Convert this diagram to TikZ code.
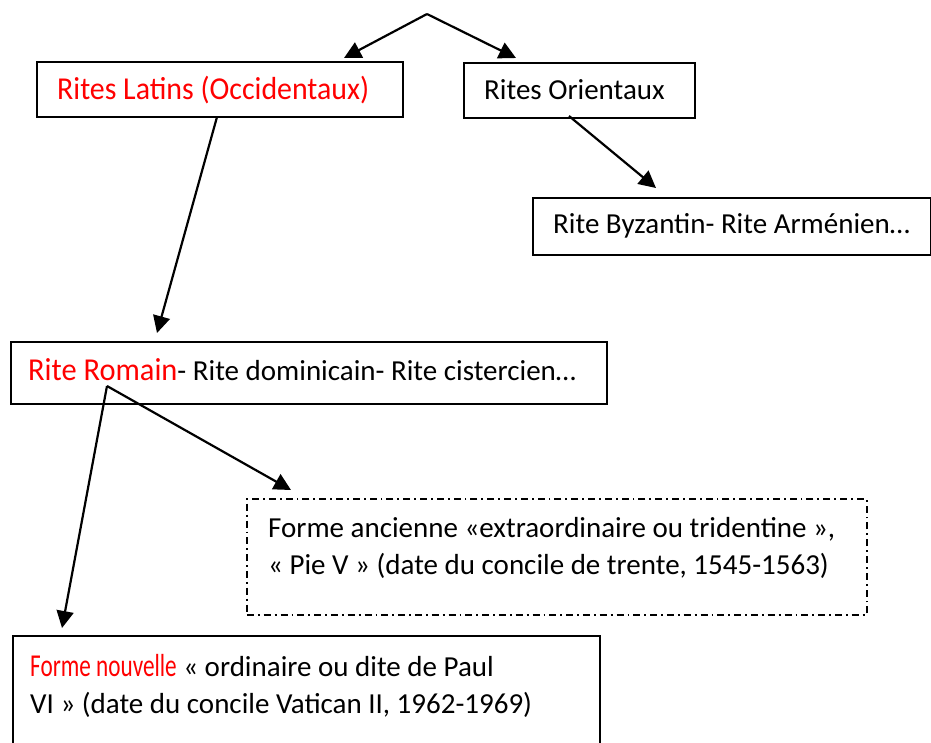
\documentclass[tikz,border=0pt]{standalone}
\usepackage{fontspec}
\usepackage{graphicx}
\setmainfont{Carlito}
\usetikzlibrary{arrows.meta}
\definecolor{handred}{HTML}{FF0000}
\begin{document}
\begin{tikzpicture}[x=1pt,y=-1pt,
  box/.style={draw=black,line width=2.2pt,rectangle,inner sep=0pt,anchor=north west},
  dashbox/.style={box,line width=1.8pt,dash pattern=on 7pt off 4pt on 1.8pt off 4pt},
  txt/.style={anchor=west,inner sep=0pt,font=\fontsize{29}{37}\selectfont,align=left},
  hand/.style={text=handred},
  conn/.style={draw=black,line width=2.2pt,-{Triangle[length=17pt,width=17pt]}}
]
\useasboundingbox (0,0) rectangle (931,742);
% boxes
\node[box,minimum width=366pt,minimum height=55pt] (latin) at (36,61) {};
\node[box,minimum width=231pt,minimum height=55pt] (orient) at (463,62) {};
\node[box,minimum width=398pt,minimum height=57pt] (byz) at (532,197) {};
\node[box,minimum width=596pt,minimum height=62pt] (romain) at (10,341) {};
\node[dashbox,minimum width=620pt,minimum height=116pt] (ancienne) at (246,498) {};
\node[box,minimum width=587pt,minimum height=120pt] (nouvelle) at (12,635) {};
% texts
\node[txt,hand] (tlatin) at (57,90) {\scalebox{1.03}[1.1]{Rites Latins (Occidentaux)}};
\node[txt] (torient) at (484,90) {Rites Orientaux};
\node[txt] (tbyz) at (553,226) {Rite Byzantin- Rite Arménien…};
\node[txt] (tromain) at (28,370) {\textcolor{handred}{\scalebox{1.05}[1.1]{Rite Romain}}- Rite dominicain- Rite cistercien…};
\node[txt,anchor=north west] (tanc) at (268,517) {Forme ancienne «extraordinaire ou tridentine »,\\« Pie V » (date du concile de trente, 1545-1563)};
\node[txt,anchor=north west] (tnouv) at (30,654) {\textcolor{handred}{\scalebox{0.8}[1.1]{Forme nouvelle}} « ordinaire ou dite de Paul\\VI » (date du concile Vatican II, 1962-1969)};
% connector coordinates
\coordinate (top) at (427,14);
\coordinate (latinin) at (344,58);
\coordinate (orientin) at (516,58);
\coordinate (latinout) at (217,117);
\coordinate (romainin) at (157,333);
\coordinate (orientout) at (569,116);
\coordinate (byzin) at (656,188);
\coordinate (romainout) at (107,386);
\coordinate (nouvin) at (62,628);
\coordinate (ancin) at (291,490);
% connectors
\draw[conn] (top) -- (latinin);
\draw[conn] (top) -- (orientin);
\draw[conn] (latinout) -- (romainin);
\draw[conn] (orientout) -- (byzin);
\draw[conn] (romainout) -- (nouvin);
\draw[conn] (romainout) -- (ancin);
\end{tikzpicture}
\end{document}
